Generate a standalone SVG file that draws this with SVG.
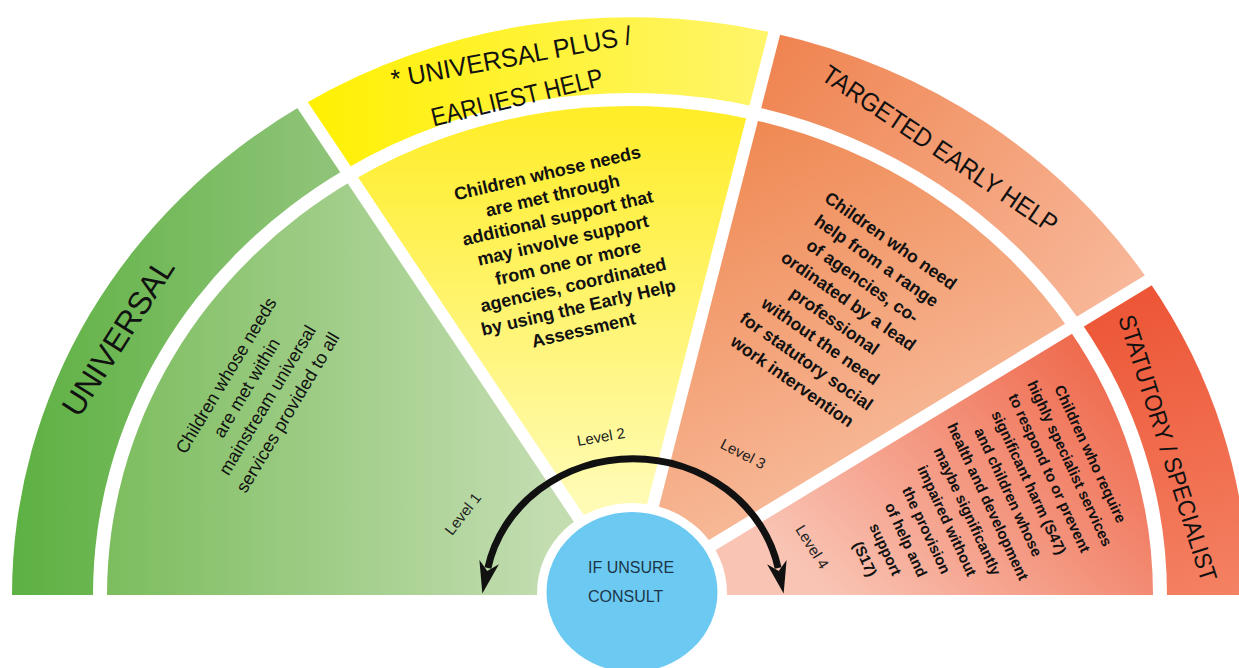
<svg xmlns="http://www.w3.org/2000/svg" width="1239" height="668" viewBox="0 0 1239 668">
<defs>
<style>
.f{font-family:"Liberation Sans",Arial,sans-serif;fill:#111;}
.hd{font-size:26px;text-anchor:middle;}
.body{text-anchor:middle;}
.b{font-weight:bold;}
.lvl{font-size:15px;text-anchor:middle;fill:#222;}
.gap{stroke:#fff;stroke-width:12;vector-effect:non-scaling-stroke;fill:none;}
.ctr{font-size:16px;fill:#1d3549;}
</style>
<linearGradient id="gB" gradientUnits="userSpaceOnUse" x1="-618" y1="0" x2="-300" y2="0"><stop offset="0" stop-color="#5db142"/><stop offset="1" stop-color="#8fc478"/></linearGradient>
<linearGradient id="gW" gradientUnits="userSpaceOnUse" x1="-523" y1="0" x2="-80" y2="0"><stop offset="0" stop-color="#7cbd5e"/><stop offset="1" stop-color="#c3ddb1"/></linearGradient>
<linearGradient id="yB" gradientUnits="userSpaceOnUse" x1="-330" y1="0" x2="145" y2="0"><stop offset="0" stop-color="#fff000"/><stop offset="1" stop-color="#fff56c"/></linearGradient>
<linearGradient id="yW" gradientUnits="userSpaceOnUse" x1="0" y1="-510" x2="0" y2="-100"><stop offset="0" stop-color="#ffed2a"/><stop offset="1" stop-color="#fffbb5"/></linearGradient>
<linearGradient id="oB" gradientUnits="userSpaceOnUse" x1="144" y1="-600" x2="518" y2="-336"><stop offset="0" stop-color="#ef834f"/><stop offset="1" stop-color="#f8b99b"/></linearGradient>
<linearGradient id="oW" gradientUnits="userSpaceOnUse" x1="120" y1="-510" x2="330" y2="-80"><stop offset="0" stop-color="#ef8852"/><stop offset="1" stop-color="#f9c3a6"/></linearGradient>
<linearGradient id="rB" gradientUnits="userSpaceOnUse" x1="520" y1="-340" x2="618" y2="0"><stop offset="0" stop-color="#ec5434"/><stop offset="1" stop-color="#f48264"/></linearGradient>
<linearGradient id="rW" gradientUnits="userSpaceOnUse" x1="470" y1="-300" x2="180" y2="-20"><stop offset="0" stop-color="#ee6244"/><stop offset="1" stop-color="#f9c4b4"/></linearGradient>
<marker id="ah" viewBox="-10 -12 40 24" refX="0" refY="0" markerWidth="40" markerHeight="24" markerUnits="userSpaceOnUse" orient="auto-start-reverse"><path d="M26 0 L-6 -10 L3 0 L-6 10 Z" fill="#111"/></marker>
</defs>
<rect width="1239" height="668" fill="#fff"/>

<g id="node-universal">
<g transform="translate(630,595) scale(1,0.935)">
<path d="M-618 0 A618 618 0 0 1 -327.5 -524.1 L-284.6 -455.4 A537 537 0 0 0 -537 0 Z" fill="url(#gB)"/>
<path d="M0 0 L-523 0 A523 523 0 0 1 -277.1 -443.5 Z" fill="url(#gW)"/>
</g>
<text class="f hd" font-size="32" textLength="180" lengthAdjust="spacingAndGlyphs" transform="translate(118,337) rotate(-57.5)" y="11" style="font-size:32px">UNIVERSAL</text>
<text class="f body" font-size="18" transform="translate(257,394) rotate(-59)"><tspan x="0" y="-30">Children whose needs</tspan><tspan x="0" dy="24">are met within</tspan><tspan x="0" dy="24">mainstream universal</tspan><tspan x="0" dy="24">services provided to all</tspan></text>
<text class="f lvl" transform="translate(463,514) rotate(-52)" y="5">Level 1</text>
</g>

<g id="node-universal-plus">
<g transform="translate(630,595) scale(1,0.935)">
<path d="M-327.5 -524.1 A618 618 0 0 1 144.2 -600.9 L125.3 -522.2 A537 537 0 0 0 -284.6 -455.4 Z" fill="url(#yB)"/>
<path d="M0 0 L-277.1 -443.5 A523 523 0 0 1 122.1 -508.6 Z" fill="url(#yW)"/>
</g>
<text class="f hd" textLength="244" lengthAdjust="spacingAndGlyphs" transform="translate(513,66) rotate(-10.5)">* UNIVERSAL PLUS /</text>
<text class="f hd" textLength="176" lengthAdjust="spacingAndGlyphs" transform="translate(519,106) rotate(-13.5)">EARLIEST HELP</text>
<text class="f body b" font-size="18" transform="translate(565.5,251.5) rotate(-13)"><tspan x="0" y="-74.5">Children whose needs</tspan><tspan x="0" dy="23">are met through</tspan><tspan x="0" dy="23">additional support that</tspan><tspan x="0" dy="23">may involve support</tspan><tspan x="0" dy="23">from one or more</tspan><tspan x="0" dy="23">agencies, coordinated</tspan><tspan x="0" dy="23">by using the Early Help</tspan><tspan x="0" dy="23">Assessment</tspan></text>
<text class="f lvl" transform="translate(601,437) rotate(-10)" y="5">Level 2</text>
</g>

<g id="node-targeted">
<g transform="translate(630,595) scale(1,0.935)">
<path d="M144.2 -600.9 A618 618 0 0 1 518.3 -336.6 L450.4 -292.4 A537 537 0 0 0 125.3 -522.2 Z" fill="url(#oB)"/>
<path d="M0 0 L122.1 -508.6 A523 523 0 0 1 438.6 -284.8 Z" fill="url(#oW)"/>
</g>
<text class="f hd" textLength="278" lengthAdjust="spacingAndGlyphs" transform="translate(940,149) rotate(34)" y="9">TARGETED EARLY HELP</text>
<text class="f body b" font-size="17.5" transform="translate(841.5,311) rotate(35)"><tspan x="0" y="-79.75">Children who need</tspan><tspan x="0" dy="24.5">help from a range</tspan><tspan x="0" dy="24.5">of agencies, co-</tspan><tspan x="0" dy="24.5">ordinated by a lead</tspan><tspan x="0" dy="24.5">professional</tspan><tspan x="0" dy="24.5">without the need</tspan><tspan x="0" dy="24.5">for statutory social</tspan><tspan x="0" dy="24.5">work intervention</tspan></text>
<text class="f lvl" transform="translate(743,454) rotate(27)" y="5">Level 3</text>
</g>

<g id="node-statutory">
<g transform="translate(630,595) scale(1,0.935)">
<path d="M518.3 -336.6 A618 618 0 0 1 618 0 L537 0 A537 537 0 0 0 450.4 -292.4 Z" fill="url(#rB)"/>
<path d="M0 0 L438.6 -284.8 A523 523 0 0 1 523 0 Z" fill="url(#rW)"/>
</g>
<text class="f hd" textLength="278" lengthAdjust="spacingAndGlyphs" transform="translate(1168,448) rotate(72.5)" y="8.5" style="font-size:24px">STATUTORY / SPECIALIST</text>
<text class="f body b" font-size="15" transform="translate(977.5,506.5) rotate(65)"><tspan x="0" y="-119.3">Children who require</tspan><tspan x="0" dy="22.6">highly specialist services</tspan><tspan x="0" dy="22.6">to respond to or prevent</tspan><tspan x="0" dy="22.6">significant harm (S47)</tspan><tspan x="0" dy="22.6">and children whose</tspan><tspan x="0" dy="22.6">health and development</tspan><tspan x="0" dy="22.6">maybe significantly</tspan><tspan x="0" dy="22.6">impaired without</tspan><tspan x="0" dy="22.6">the provision</tspan><tspan x="0" dy="22.6">of help and</tspan><tspan x="0" dy="22.6">support</tspan><tspan x="0" dy="22.6">(S17)</tspan></text>
<text class="f lvl" transform="translate(812,547) rotate(58)" y="5">Level 4</text>
</g>

<g id="dividers" transform="translate(630,595) scale(1,0.935)">
<line class="gap" x1="0" y1="0" x2="-339.1" y2="-542.7"/>
<line class="gap" x1="0" y1="0" x2="149.4" y2="-622.3"/>
<line class="gap" x1="0" y1="0" x2="536.8" y2="-348.6"/>
</g>

<g id="node-consult">
<ellipse cx="632" cy="593" rx="95" ry="90" fill="#fff"/>
<ellipse cx="632" cy="592" rx="85.5" ry="80" fill="#6ccaf2"/>
<text class="f ctr" x="588" y="573">IF UNSURE</text>
<text class="f ctr" x="588" y="602">CONSULT</text>
</g>

<g id="connectors">
<path d="M487.9 568 A148 136 0 0 1 778.1 568" fill="none" stroke="#111" stroke-width="7" marker-start="url(#ah)" marker-end="url(#ah)"/>
</g>
</svg>
